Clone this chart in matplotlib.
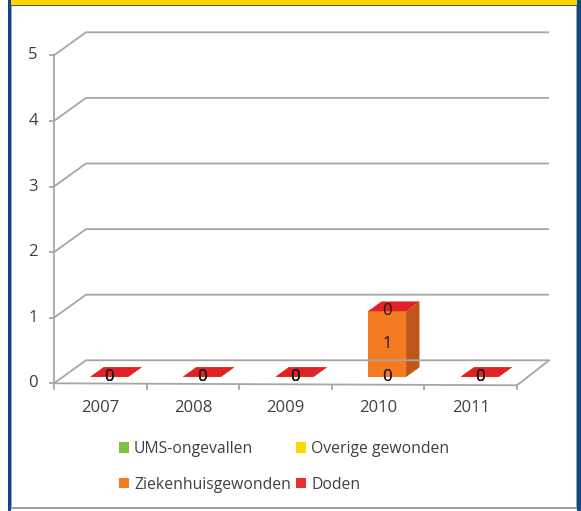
import matplotlib.pyplot as plt
from matplotlib.patches import Polygon, Rectangle, Patch

# data
years = ['2007', '2008', '2009', '2010', '2011']
series_names = ['UMS-ongevallen', 'Overige gewonden', 'Ziekenhuisgewonden', 'Doden']
ums = [0, 0, 0, 0, 0]
overige = [0, 0, 0, 0, 0]
ziekenhuis = [0, 0, 0, 1, 0]
doden = [0, 0, 0, 0, 0]
y_ticks = [0, 1, 2, 3, 4, 5]

series = [ums, overige, ziekenhuis, doden]
front_cols = ['#7DC142', '#FFD800', '#F47B20', '#E22127']
side_cols = ['#5E9A2E', '#CCAA00', '#C0561A', '#B01A1F']
legend_cols = ['#7DC142', '#FFD800', '#F47B20', '#E8312A']

W, H = 581, 511
fig = plt.figure(figsize=(W / 100, H / 100), dpi=100)
plt.rcParams['font.family'] = ['Open Sans', 'DejaVu Sans']
FS = 12
FS_LEG = 11.3
TXT = '#404040'
GRID = '#A6A6A6'

ax = fig.add_axes([0, 0, 1, 1])
ax.set_xlim(-1.0832, 5.191)
ax.set_ylim(-1.9466, 5.843)
ax.axis('off')

# oblique depth offset of the back wall (in data units)
DX, DY = 0.3456, 0.3506
x0, x1 = -0.5, len(years) - 0.5


def p(x, y, d):
    return (x + d * DX, y + d * DY)


# back wall gridlines + side wall diagonals
for v in y_ticks:
    xs, ys = zip(p(x0, v, 0), p(x0, v, 1), p(x1, v, 1))
    ax.plot(xs, ys, color=GRID, lw=1.3, solid_capstyle='butt')
    ax.plot([x0 - 0.045, x0], [v, v], color=GRID, lw=1.3)
    ax.text(x0 - 0.227, v, str(v), ha='center', va='center', fontsize=FS, color=TXT)

# front axis and floor
ax.plot([x0, x0], [0, y_ticks[-1]], color=GRID, lw=1.3)
xs, ys = zip(p(x0, 0, 0), p(x1, -0.03, 0), p(x1, 0, 1))
ax.plot(xs, ys, color=GRID, lw=1.3)
for k in range(len(years) + 1):
    ax.plot([x0 + k, x0 + k], [-0.03, -0.09], color=GRID, lw=1.3)
for i, yr in enumerate(years):
    ax.text(i, -0.377, yr, ha='center', va='center', fontsize=FS, color=TXT)

# stacked 3d columns
d1, d2, hw = 0.28, 0.70, 0.205
for i in range(len(years)):
    base = 0
    xl, xr = i - hw, i + hw
    for s, vals in enumerate(series):
        top = base + vals[i]
        if vals[i] > 0:
            ax.add_patch(Polygon([p(xl, base, d1), p(xr, base, d1), p(xr, top, d1), p(xl, top, d1)],
                                 closed=True, fc=front_cols[s], ec='none'))
            ax.add_patch(Polygon([p(xr, base, d1), p(xr, base, d2), p(xr, top, d2), p(xr, top, d1)],
                                 closed=True, fc=side_cols[s], ec='none'))
        ax.add_patch(Polygon([p(xl, top, d1), p(xr, top, d1), p(xr, top, d2), p(xl, top, d2)],
                             closed=True, fc=front_cols[s], ec='none'))
        base = top
    base = 0
    for s, vals in enumerate(series):
        lx, ly = p(i, base + vals[i] / 2, d1)
        ax.text(lx, ly, str(vals[i]), ha='center', va='center', fontsize=FS, color='#1A1A1A')
        base += vals[i]

# legend
order = [0, 2, 1, 3]
handles = [Patch(fc=legend_cols[k], ec='none', label=series_names[k]) for k in order]
fig.legend(handles=handles, ncol=2, loc='upper left', bbox_to_anchor=(119 / W, 1 - 441 / H),
           bbox_transform=fig.transFigure, frameon=False, fontsize=FS_LEG, labelcolor=TXT,
           handlelength=0.65, handleheight=0.65, handletextpad=0.3, columnspacing=0.35,
           labelspacing=1.25, borderpad=0, borderaxespad=0)

# frame: blue sides, yellow header, grey inner border


def rect(x, y, w, h, c):
    fig.add_artist(Rectangle((x / W, 1 - (y + h) / H), w / W, h / H, transform=fig.transFigure,
                             fc=c, ec='none'))


rect(11, 0, 566, 5.5, '#FFD400')
rect(11, 5.5, 566, 1, '#5A5A5A')
rect(8, 0, 3, H, '#0B4A8A')
rect(577, 0, 4, H, '#0B4A8A')
rect(11, 6, 1.2, 502, '#A0A0A0')
rect(575.5, 6, 1.2, 502, '#A0A0A0')
rect(11, 507, 566, 1.5, '#A0A0A0')

fig.savefig('out.png', dpi=100)
